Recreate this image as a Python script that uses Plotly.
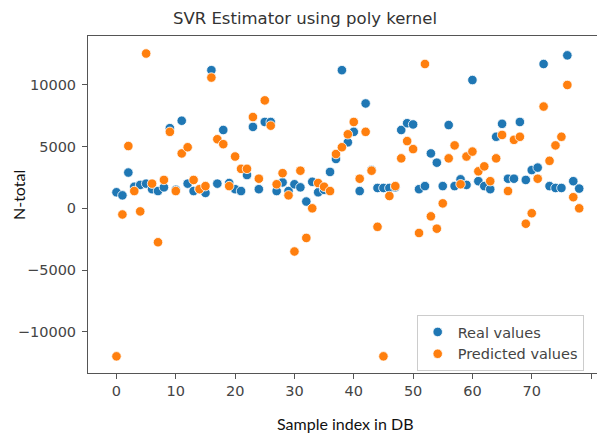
import plotly.graph_objects as go

# Data
sample_index = list(range(79))
real_values = [
    1300, 1050, 2900, 1750, 1900, 2000, 1550, 1400, 1700, 6500,
    1500, 7100, 2000, 1400, 1550, 1250, 11200, 2000, 6350, 2050,
    1550, 1400, 2700, 6600, 1550, 7000, 7000, 1400, 2100, 1400,
    1950, 1700, 550, 2150, 1300, 1500, 2950, 4000, 11200, 5350,
    6200, 1400, 8500, 3100, 1650, 1650, 1650, 1700, 6350, 6900,
    6800, 1550, 1800, 4450, 3700, 1800, 6750, 1800, 2350, 1900,
    10400, 2200, 1800, 1550, 5800, 6850, 2400, 2400, 7000, 2300,
    3100, 3300, 11700, 1800, 1650, 1650, 12400, 2200, 1600,
]
predicted_values = [
    -12000, -500, 5050, 1400, -250, 12550, 2000, -2750, 2300, 6200,
    1400, 4450, 4950, 2300, 1550, 1800, 10600, 5600, 5200, 1800,
    4200, 3200, 3200, 7400, 2400, 8750, 6700, 1950, 2850, 1050,
    -3500, 3050, -2400, 0, 2050, 1750, 1400, 4400, 4950, 6000,
    7000, 2400, 6200, 3050, -1500, -12000, 1000, 1800, 4050, 5450,
    4800, -2000, 11700, -650, -1650, 400, 4050, 5100, 1950, 4200,
    4600, 3000, 3400, 2200, 4050, 5950, 1400, 5550, 5800, -1250,
    -400, 2400, 8250, 3850, 5100, 5800, 10000, 900, 0,
]
x_ticks = [0, 10, 20, 30, 40, 50, 60, 70, 80]
y_ticks = [-10000, -5000, 0, 5000, 10000]
y_tick_labels = ["\u221210000", "\u22125000", "0", "5000", "10000"]

W, H = 597, 439
L, R, T, B = 88, 0, 36, 66

fig = go.Figure()
fig.add_trace(go.Scatter(
    x=sample_index, y=real_values, mode="markers", name="Real values",
    marker=dict(color="#1f77b4", size=9.5, line=dict(color="white", width=0.8)),
))
fig.add_trace(go.Scatter(
    x=sample_index, y=predicted_values, mode="markers", name="Predicted values",
    marker=dict(color="#ff7f0e", size=9.5, line=dict(color="white", width=0.8)),
))

axis_common = dict(
    showgrid=False, zeroline=False, showline=True, linecolor="#555555", linewidth=1,
    ticks="outside", ticklen=5, tickcolor="#555555", tickwidth=1,
    tickfont=dict(family="DejaVu Sans", size=14.5, color="#444444"),
)
fig.update_xaxes(range=[-4.8, 81.0], tickvals=x_ticks, mirror=True, **axis_common)
fig.update_yaxes(range=[-13350, 13970], tickvals=y_ticks, ticktext=y_tick_labels,
                 mirror=False, ticklabelstandoff=3, **axis_common)

fig.update_layout(
    width=W, height=H,
    margin=dict(l=L, r=R, t=T, b=B),
    plot_bgcolor="white", paper_bgcolor="white",
    title=dict(text="SVR Estimator using poly kernel", x=305 / W, xanchor="center",
               y=1 - 18 / H, yanchor="middle", yref="container",
               font=dict(family="DejaVu Sans", size=16.5, color="#333333")),
    legend=dict(x=(416.7 - L) / (W - L - R), xanchor="left",
                y=(373 - 315) / (H - T - B), yanchor="top",
                bgcolor="rgba(255,255,255,0.8)", bordercolor="#cccccc", borderwidth=1,
                font=dict(family="DejaVu Sans", size=14.5, color="#444444")),
    showlegend=True,
)

fig.add_annotation(text="Sample index in DB", xref="paper", yref="paper",
                   x=(345 - L) / (W - L - R), y=(H - B - 423) / (H - T - B),
                   xanchor="center", yanchor="middle", showarrow=False,
                   font=dict(family="Lato", size=16, color="#111111"))
fig.add_annotation(text="N-total", xref="paper", yref="paper",
                   x=(18 - L) / (W - L - R), y=(H - B - 195) / (H - T - B),
                   xanchor="center", yanchor="middle", showarrow=False, textangle=-90,
                   font=dict(family="Lato", size=16, color="#111111"))

fig.write_html("out.html")
